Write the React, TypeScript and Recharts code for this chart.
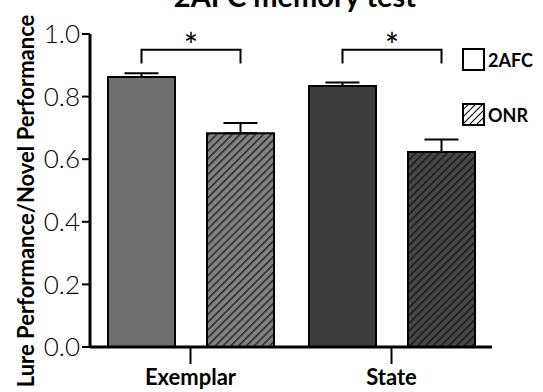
import React from "react";
import {
  BarChart,
  Bar,
  XAxis,
  YAxis,
  Cell,
  ErrorBar,
  LabelList,
} from "recharts";

const categories = ["Exemplar", "State"];
const seriesNames = ["2AFC", "ONR"];
const afcValues = [0.863, 0.834];
const afcErrors = [0.012, 0.011];
const onrValues = [0.683, 0.623];
const onrErrors = [0.033, 0.04];
const bracketLevel = [0.95, 0.95];
const bracketTip = [0.906, 0.906];
const yTicks = [0, 0.2, 0.4, 0.6, 0.8, 1.0];

const afcFills = ["#6f6f6f", "#3d3d3d"];
const onrFills = ["url(#hatchLight)", "url(#hatchDark)"];
const legendFills = ["#fff", "url(#hatchLegend)"];

const BAR_GAP = 32;
const FONT = "Lato, 'Open Sans', sans-serif";

const data = categories.map((name, i) => ({
  name,
  afc: afcValues[i],
  afcErr: [0, afcErrors[i]],
  onr: onrValues[i],
  onrErr: [0, onrErrors[i]],
}));

// significance bracket drawn from the 2AFC bar over to the ONR bar
function Bracket(props: any) {
  const x = Number(props.x);
  const y = Number(props.y);
  const w = Number(props.width);
  const h = Number(props.height);
  const i = props.index;
  const v = afcValues[i];
  const zero = y + h;
  const k = h / v;
  const yb = zero - bracketLevel[i] * k;
  const yt = zero - bracketTip[i] * k;
  const left = x + w / 2;
  const right = left + w + BAR_GAP;
  return (
    <g>
      <path
        d={`M${left},${yt} L${left},${yb} L${right},${yb} L${right},${yt}`}
        fill="none"
        stroke="#000"
        strokeWidth={2}
      />
      <text
        x={(left + right) / 2}
        y={yb + 8}
        textAnchor="middle"
        fontFamily={FONT}
        fontSize={34}
        fill="#000"
      >
        *
      </text>
    </g>
  );
}

function YLabel() {
  return (
    <text
      x={25}
      y={201}
      transform="rotate(-90, 25, 201)"
      textAnchor="middle"
      dominantBaseline="central"
      fontFamily={FONT}
      fontWeight={700}
      fontSize={22}
      fill="#000"
    >
      Lure Performance/Novel Performance
    </text>
  );
}

export default function App() {
  return (
    <div style={{ position: "absolute", left: 0, top: 0, width: 543, height: 392, background: "#fff" }}>
      <svg width={0} height={0} style={{ position: "absolute" }}>
        <defs>
          <pattern id="hatchLight" patternUnits="userSpaceOnUse" width={5.5} height={5.5} patternTransform="rotate(45)">
            <rect width={5.5} height={5.5} fill="#818181" />
            <line x1={0} y1={0} x2={0} y2={5.5} stroke="#2a2a2a" strokeWidth={3} />
          </pattern>
          <pattern id="hatchDark" patternUnits="userSpaceOnUse" width={5.5} height={5.5} patternTransform="rotate(45)">
            <rect width={5.5} height={5.5} fill="#474747" />
            <line x1={0} y1={0} x2={0} y2={5.5} stroke="#181818" strokeWidth={3} />
          </pattern>
          <pattern id="hatchLegend" patternUnits="userSpaceOnUse" width={5} height={5} patternTransform="rotate(45)">
            <rect width={5} height={5} fill="#fff" />
            <line x1={0} y1={0} x2={0} y2={5} stroke="#000" strokeWidth={2} />
          </pattern>
        </defs>
      </svg>
      <svg width={543} height={30} style={{ position: "absolute", left: 0, top: 0, zIndex: 1 }}>
        <text x={295} y={7} textAnchor="middle" fontFamily={FONT} fontWeight={700} fontSize={29} fill="#000">
          2AFC memory test
        </text>
      </svg>
      <div style={{ position: "absolute", left: 462, top: 48, zIndex: 1 }}>
        {seriesNames.map((n, i) => (
          <div key={n} style={{ display: "flex", alignItems: "center", height: 23, marginBottom: 32 }}>
            <svg width={23} height={23} style={{ display: "block" }}>
              <rect x={1} y={1} width={21} height={21} fill={legendFills[i]} stroke="#000" strokeWidth={2} />
            </svg>
            <span style={{ marginLeft: 3, fontFamily: FONT, fontWeight: 700, fontSize: 18, color: "#000" }}>{n}</span>
          </div>
        ))}
      </div>
      <BarChart
        width={543}
        height={392}
        data={data}
        margin={{ top: 34, right: 51, bottom: 0, left: 0 }}
        barCategoryGap={18}
        barGap={BAR_GAP}
      >
        <XAxis
          dataKey="name"
          height={45}
          axisLine={{ stroke: "#000", strokeWidth: 3 }}
          tickLine={{ stroke: "#000", strokeWidth: 2 }}
          tickSize={17}
          tickMargin={5}
          tick={{ fontFamily: FONT, fontWeight: 700, fontSize: 22, fill: "#000" }}
        />
        <YAxis
          width={90}
          domain={[0, 1]}
          ticks={yTicks}
          tickFormatter={(v: number) => v.toFixed(1)}
          axisLine={{ stroke: "#000", strokeWidth: 3 }}
          tickLine={{ stroke: "#000", strokeWidth: 2 }}
          tickSize={8}
          tickMargin={2}
          tick={{ fontFamily: FONT, fontWeight: 300, fontSize: 26, fill: "#000" }}
          label={{ content: YLabel }}
        />
        <Bar dataKey="afc" name={seriesNames[0]} fill="#fff" stroke="#000" strokeWidth={2} isAnimationActive={false}>
          {data.map((d, i) => (
            <Cell key={d.name} fill={afcFills[i]} />
          ))}
          <ErrorBar dataKey="afcErr" width={17} stroke="#000" strokeWidth={2} />
          <LabelList dataKey="afc" content={Bracket} />
        </Bar>
        <Bar dataKey="onr" name={seriesNames[1]} fill="#fff" stroke="#000" strokeWidth={2} isAnimationActive={false}>
          {data.map((d, i) => (
            <Cell key={d.name} fill={onrFills[i]} />
          ))}
          <ErrorBar dataKey="onrErr" width={17} stroke="#000" strokeWidth={2} />
        </Bar>
      </BarChart>
    </div>
  );
}
